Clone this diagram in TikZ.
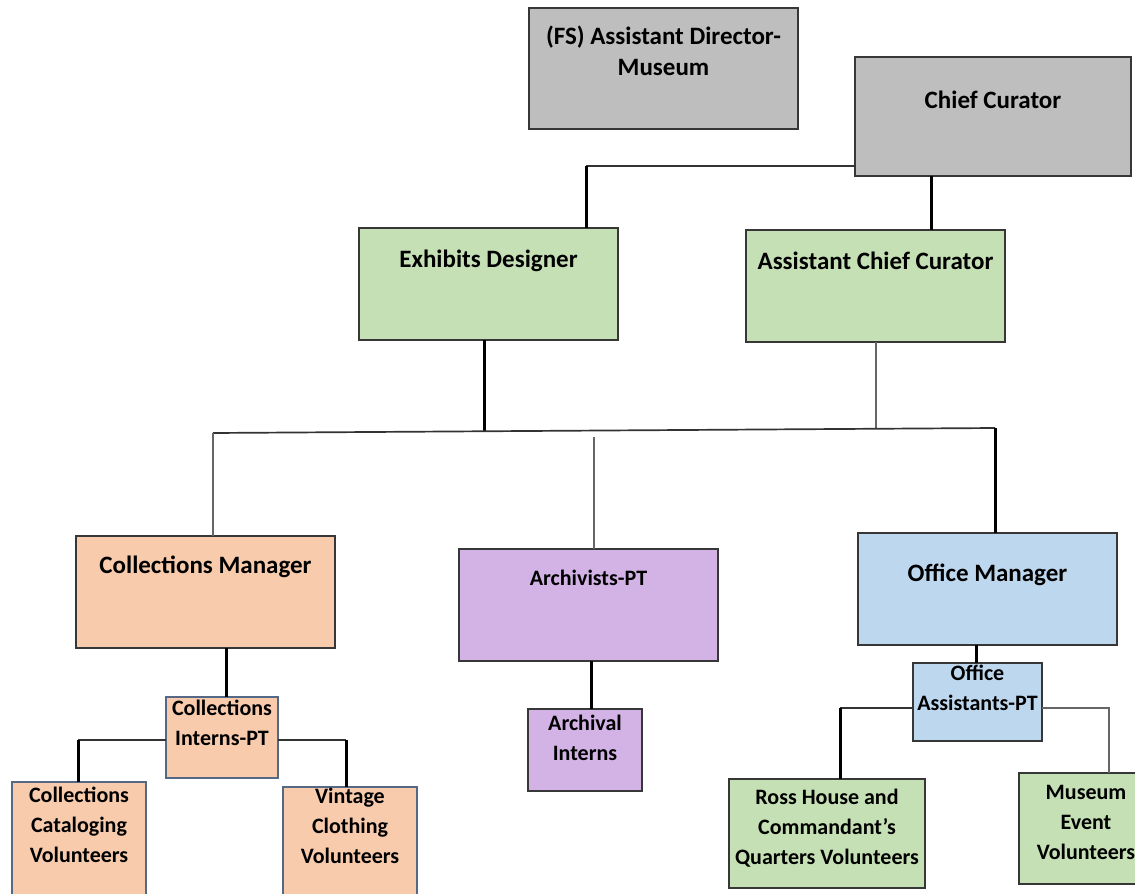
\documentclass[tikz,border=0pt]{standalone}
\usepackage{fontspec}
\setmainfont{Carlito}
\definecolor{fgray}{RGB}{190,190,190}
\definecolor{fgreen}{RGB}{197,224,180}
\definecolor{forange}{RGB}{248,203,173}
\definecolor{fpurple}{RGB}{211,178,230}
\definecolor{fblue}{RGB}{189,215,238}
\definecolor{bline}{RGB}{55,55,55}
\definecolor{sline}{RGB}{85,105,135}
\newcommand{\bt}[4]{\parbox[c][#2pt][t]{#1pt}{\centering\rule{0pt}{#3pt}#4\par}}
\begin{document}
\begin{tikzpicture}[x=1pt,y=-1pt,
  box/.style={anchor=north west, inner sep=0pt, outer sep=0pt, draw=bline, line width=1.4pt, text=black},
  big/.style={font=\fontsize{25}{31}\selectfont\bfseries},
  small/.style={font=\fontsize{22}{30}\selectfont\bfseries},
  sbox/.style={box, draw=sline},
  heavy/.style={line width=3pt, black},
  medium/.style={line width=1.7pt, black!80},
  light/.style={line width=1.2pt, black!60}]
\useasboundingbox (0,0) rectangle (1135,894);
\clip (0,0) rectangle (1135,894);
% boxes
\node[box, big, fill=fgray] (ad) at (529,8) {\bt{269}{121}{36}{(FS) Assistant Director-\\Museum}};
\node[box, big, fill=fgray] (cc) at (855,57) {\bt{276}{119}{51}{Chief Curator}};
\node[box, big, fill=fgreen] (ed) at (359,228) {\bt{259}{112}{39}{Exhibits Designer}};
\node[box, big, fill=fgreen] (acc) at (746,230) {\bt{259}{112}{39}{Assistant Chief Curator}};
\node[box, big, fill=forange] (cm) at (76,536) {\bt{259}{112}{37}{Collections Manager}};
\node[box, small, fill=fpurple] (ar) at (459,549) {\bt{259}{112}{36}{Archivists-PT}};
\node[box, big, fill=fblue] (om) at (858,533) {\bt{259}{112}{48}{Office Manager}};
\node[sbox, small, fill=forange] (ci) at (166,697) {\bt{112}{81}{18}{Collections\\Interns-PT}};
\node[sbox, small, fill=forange] (cv) at (12,782) {\bt{134}{116}{20}{Collections\\Cataloging\\Volunteers}};
\node[sbox, small, fill=forange] (vc) at (283,787) {\bt{134}{112}{16}{Vintage\\Clothing\\Volunteers}};
\node[box, small, fill=fpurple] (ai) at (528,709) {\bt{114}{82}{21}{Archival\\Interns}};
\node[box, small, fill=fblue] (oa) at (913,663) {\bt{129}{78}{17}{Office\\Assistants-PT}};
\node[box, small, fill=fgreen] (rh) at (729,779) {\bt{196}{109}{25}{Ross House and\\Commandant’s\\Quarters Volunteers}};
\node[box, small, fill=fgreen] (me) at (1019,773) {\bt{134}{111}{26}{Museum\\Event\\Volunteers}};
% junction coordinates
\coordinate (k1) at (586,166);
\coordinate (k2) at (931,0);
\coordinate (busL) at (213,433);
\coordinate (busR) at (995,428);
\coordinate (jed) at (484,431);
\coordinate (jacc) at (876,428);
\coordinate (jar) at (594,437);
\coordinate (kci) at (226,0);
\coordinate (kar) at (591,0);
\coordinate (kom) at (976,0);
\coordinate (cL) at (78,740);
\coordinate (cR) at (346,740);
\coordinate (oL) at (840,708);
\coordinate (oR) at (1109,708);
% connectors
\draw[medium] (k1 -| cc.west) -- (k1);
\draw[heavy] (k1) -- (k1 |- ed.north);
\draw[heavy] (cc.south -| k2) -- (acc.north -| k2);
\draw[heavy] (ed.south -| jed) -- (jed);
\draw[light] (acc.south -| jacc) -- (jacc);
\draw[medium] (busL) -- (busR);
\draw[light] (busL) -- (cm.north -| busL);
\draw[light] (jar) -- (ar.north -| jar);
\draw[heavy] (busR) -- (om.north -| busR);
\draw[heavy] (cm.south -| kci) -- (ci.north -| kci);
\draw[medium] (ci.west |- cL) -- (cL);
\draw[heavy] (cL) -- (cv.north -| cL);
\draw[medium] (ci.east |- cR) -- (cR);
\draw[heavy] (cR) -- (vc.north -| cR);
\draw[heavy] (ar.south -| kar) -- (ai.north -| kar);
\draw[heavy] (om.south -| kom) -- (oa.north -| kom);
\draw[medium] (oa.west |- oL) -- (oL);
\draw[heavy] (oL) -- (rh.north -| oL);
\draw[light] (oa.east |- oR) -- (oR) -- (me.north -| oR);
\end{tikzpicture}
\end{document}
